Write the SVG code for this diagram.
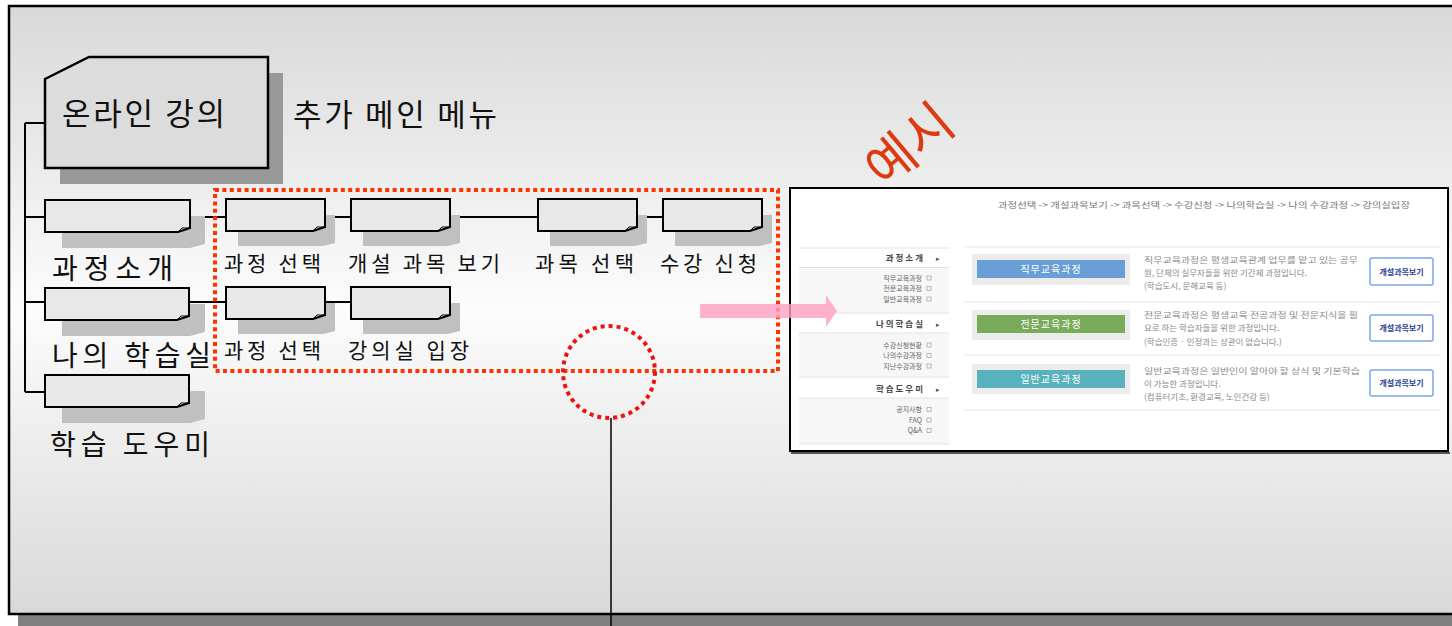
<svg xmlns="http://www.w3.org/2000/svg" width="1452" height="626" viewBox="0 0 1452 626">
<defs>
<linearGradient id="bg" x1="0" y1="0" x2="0" y2="1">
<stop offset="0" stop-color="#d9d9d9"/>
<stop offset="0.5" stop-color="#fcfcfc"/>
<stop offset="1" stop-color="#d9d9d9"/>
</linearGradient>
</defs>
<style>
.k{font-family:"Noto Sans CJK KR","Noto Sans",sans-serif;fill:#111}
.big{font-size:31px}
.lbl{font-size:28px}
.sl{font-size:21px}
.nd{fill:#e8e8e8;stroke:#000;stroke-width:2}
.fold{fill:none;stroke:#000;stroke-width:1}
.sh{fill:#c0c0c0}
.ln{stroke:#000;stroke-width:2;fill:none}
.s{font-family:"Noto Sans CJK KR","Noto Sans",sans-serif}
.mh{font-size:8.5px;font-weight:bold;fill:#444;letter-spacing:2px}
.mi{font-size:7px;fill:#666}
.ds{font-size:8.5px;fill:#8a8a8a}
.sep{stroke:#e4e4dc;stroke-width:1}
.ico{fill:none;stroke:#aaa;stroke-width:0.8}
.btn{fill:#fff;stroke:#7aa8e8;stroke-width:1.5}
.bt{font-size:8px;font-weight:bold;fill:#2a3f8f}
.bar{font-size:10px;fill:#fff;letter-spacing:1px}
</style>
<!-- background frame -->
<rect x="18" y="614" width="1440" height="12" fill="#808080"/>
<rect x="9" y="6" width="1450" height="608" fill="url(#bg)" stroke="#000" stroke-width="2.5"/>

<!-- connectors -->
<g id="connectors">
<path class="ln" d="M25,123 V392 M25,123 H45 M25,217 H45 M25,302 H45 M25,392 H45"/>
<path class="ln" d="M190,217 H663"/>
<path class="ln" d="M189,302 H351"/>
<line x1="611" y1="418" x2="611" y2="626" stroke="#000" stroke-width="1.5"/>
</g>

<!-- main node -->
<g id="node-main">
<rect x="60" y="73" width="223" height="111" fill="#999"/>
<path d="M45,79 L89,57 H268 V168 H45 Z" fill="#dcdcdc" stroke="#000" stroke-width="2.5"/>
<text class="k big" x="62" y="125" textLength="163" lengthAdjust="spacing">온라인 강의</text>
</g>
<text class="k big" x="293" y="126" textLength="204" lengthAdjust="spacing">추가 메인 메뉴</text>

<!-- level 1 nodes -->
<g id="node-course-intro" transform="translate(45,200)">
<path class="sh" d="M17,16 H160 V44 L145,48 H17 Z"/>
<path class="nd" d="M0,0 H145 V28 L139,30 L133,32 H0 Z"/>
<path class="fold" d="M133,32 L137,28 L145,28"/>
<text class="k lbl" x="7" y="79" textLength="121" lengthAdjust="spacing">과정소개</text>
</g>
<g id="node-my-study" transform="translate(45,288)">
<path class="sh" d="M17,16 H160 V44 L145,48 H17 Z"/>
<path class="nd" d="M0,0 H144 V28 L138,30 L132,32 H0 Z"/>
<path class="fold" d="M132,32 L136,28 L144,28"/>
<text class="k lbl" x="7" y="78" textLength="159" lengthAdjust="spacing">나의 학습실</text>
</g>
<g id="node-helper" transform="translate(45,375)">
<path class="sh" d="M17,16 H160 V44 L145,48 H17 Z"/>
<path class="nd" d="M0,0 H144 V28 L138,30 L132,32 H0 Z"/>
<path class="fold" d="M132,32 L136,28 L144,28"/>
<text class="k lbl" x="5" y="80" textLength="160" lengthAdjust="spacing">학습 도우미</text>
</g>

<!-- row 1 -->
<g id="node-r1-1" transform="translate(226,199)">
<path class="sh" d="M12,16 H109 V44 L97,47 H12 Z"/>
<path class="nd" d="M0,0 H99 V28 L93,30 L87,32 H0 Z"/>
<path class="fold" d="M87,32 L91,28 L99,28"/>
<text class="k sl" x="-2" y="72" textLength="97" lengthAdjust="spacing">과정 선택</text>
</g>
<g id="node-r1-2" transform="translate(351,199)">
<path class="sh" d="M12,16 H109 V44 L97,47 H12 Z"/>
<path class="nd" d="M0,0 H99 V28 L93,30 L87,32 H0 Z"/>
<path class="fold" d="M87,32 L91,28 L99,28"/>
<text class="k sl" x="-3" y="72" textLength="152" lengthAdjust="spacing">개설 과목 보기</text>
</g>
<g id="node-r1-3" transform="translate(538,199)">
<path class="sh" d="M12,16 H109 V44 L97,47 H12 Z"/>
<path class="nd" d="M0,0 H99 V28 L93,30 L87,32 H0 Z"/>
<path class="fold" d="M87,32 L91,28 L99,28"/>
<text class="k sl" x="-3" y="72" textLength="99" lengthAdjust="spacing">과목 선택</text>
</g>
<g id="node-r1-4" transform="translate(663,199)">
<path class="sh" d="M12,16 H109 V44 L97,47 H12 Z"/>
<path class="nd" d="M0,0 H99 V28 L93,30 L87,32 H0 Z"/>
<path class="fold" d="M87,32 L91,28 L99,28"/>
<text class="k sl" x="-3" y="72" textLength="97" lengthAdjust="spacing">수강 신청</text>
</g>

<!-- row 2 -->
<g id="node-r2-1" transform="translate(226,287)">
<path class="sh" d="M12,16 H109 V44 L97,47 H12 Z"/>
<path class="nd" d="M0,0 H99 V28 L93,30 L87,32 H0 Z"/>
<path class="fold" d="M87,32 L91,28 L99,28"/>
<text class="k sl" x="-2" y="71" textLength="97" lengthAdjust="spacing">과정 선택</text>
</g>
<g id="node-r2-2" transform="translate(351,287)">
<path class="sh" d="M12,16 H109 V44 L97,47 H12 Z"/>
<path class="nd" d="M0,0 H99 V28 L93,30 L87,32 H0 Z"/>
<path class="fold" d="M87,32 L91,28 L99,28"/>
<text class="k sl" x="-3" y="71" textLength="121" lengthAdjust="spacing">강의실 입장</text>
</g>

<!-- red dotted highlight -->
<g id="highlight">
<rect x="215" y="190" width="563" height="181" fill="none" stroke="#ff3300" stroke-width="4" stroke-dasharray="4 3.4"/>
<circle cx="609" cy="372" r="46" fill="none" stroke="#ee1111" stroke-width="4" stroke-dasharray="4 4"/>
</g>

<!-- example label -->
<text class="s" x="907" y="142" font-size="52" fill="#dd3a10" text-anchor="middle" dominant-baseline="central" transform="rotate(-40 907 142)">예시</text>

<!-- screenshot -->
<g id="screenshot">
<rect x="791" y="452" width="659" height="2" fill="#555"/>
<rect x="790" y="188" width="658" height="263" fill="#fff" stroke="#000" stroke-width="2"/>
<text class="s" x="998" y="208" font-size="8.5" fill="#777" textLength="412" lengthAdjust="spacingAndGlyphs">과정선택 -&gt; 개설과목보기 -&gt; 과목선택 -&gt; 수강신청 -&gt; 나의학습실 -&gt; 나의 수강과정 -&gt; 강의실입장</text>
<!-- left menu -->
<rect x="799" y="268" width="150" height="45" fill="#f7f7f7"/>
<rect x="799" y="333" width="150" height="44" fill="#f7f7f7"/>
<rect x="799" y="398" width="150" height="46" fill="#f7f7f7"/>
<path class="sep" d="M799,248 H949 M799,267.5 H949 M799,313 H949 M799,333 H949 M799,377 H949 M799,398 H949 M799,444 H949"/>
<text class="s mh" x="925" y="261" text-anchor="end">과정소개</text>
<text class="s mh" x="925" y="327" text-anchor="end">나의학습실</text>
<text class="s mh" x="925" y="392" text-anchor="end">학습도우미</text>
<g fill="#555" font-size="7" class="s">
<text x="936" y="261">▸</text><text x="936" y="327">▸</text><text x="936" y="392">▸</text>
</g>
<g class="s mi" text-anchor="end">
<text x="922" y="280.5">직무교육과정</text>
<text x="922" y="291">전문교육과정</text>
<text x="922" y="301.5">일반교육과정</text>
<text x="922" y="347.5">수강신청현황</text>
<text x="922" y="358">나의수강과정</text>
<text x="922" y="368.5">지난수강과정</text>
<text x="922" y="412">공지사항</text>
<text x="922" y="422.5">FAQ</text>
<text x="922" y="433">Q&amp;A</text>
</g>
<g class="ico">
<rect x="927" y="276" width="4" height="4"/><rect x="927" y="286.5" width="4" height="4"/><rect x="927" y="297" width="4" height="4"/>
<rect x="927" y="343" width="4" height="4"/><rect x="927" y="353.5" width="4" height="4"/><rect x="927" y="364" width="4" height="4"/>
<rect x="927" y="407.5" width="4" height="4"/><rect x="927" y="418" width="4" height="4"/><rect x="927" y="428.5" width="4" height="4"/>
</g>
<!-- content -->
<path class="sep" d="M965,247 H1440 M965,302 H1440 M965,355 H1440 M965,410 H1440"/>
<rect x="972" y="254" width="158" height="31" fill="#ececec"/>
<rect x="977" y="260" width="148" height="18" fill="#6a9ed6"/>
<text class="s bar" x="1051" y="273" text-anchor="middle">직무교육과정</text>
<rect x="972" y="310" width="158" height="30" fill="#ececec"/>
<rect x="977" y="315" width="148" height="18" fill="#78ac5a"/>
<text class="s bar" x="1051" y="328" text-anchor="middle">전문교육과정</text>
<rect x="972" y="364" width="158" height="30" fill="#ececec"/>
<rect x="977" y="370" width="148" height="18" fill="#58b2bd"/>
<text class="s bar" x="1051" y="383" text-anchor="middle">일반교육과정</text>
<g class="s ds">
<text x="1144" y="263" textLength="214" lengthAdjust="spacingAndGlyphs">직무교육과정은 평생교육관계 업무를 맡고 있는 공무</text>
<text x="1144" y="276">원, 단체의 실무자들을 위한 기간제 과정입니다.</text>
<text x="1144" y="289">(학습도시, 문해교육 등)</text>
<text x="1144" y="318" textLength="214" lengthAdjust="spacingAndGlyphs">전문교육과정은 평생교육 전공과정 및 전문지식을 필</text>
<text x="1144" y="331">요로 하는 학습자들을 위한 과정입니다.</text>
<text x="1144" y="345">(학습인증 · 인정과는 상관이 없습니다.)</text>
<text x="1144" y="374" textLength="216" lengthAdjust="spacingAndGlyphs">일반교육과정은 일반인이 알아야 할 상식 및 기본학습</text>
<text x="1144" y="387">이 가능한 과정입니다.</text>
<text x="1144" y="400">(컴퓨터기초, 환경교육, 노인건강 등)</text>
</g>
<rect class="btn" x="1370" y="258" width="63" height="27" rx="2"/>
<rect class="btn" x="1370" y="315" width="63" height="26" rx="2"/>
<rect class="btn" x="1370" y="370" width="63" height="26" rx="2"/>
<g class="s bt" text-anchor="middle">
<text x="1401.5" y="274.5">개설과목보기</text>
<text x="1401.5" y="331">개설과목보기</text>
<text x="1401.5" y="386">개설과목보기</text>
</g>
</g>

<!-- pink arrow -->
<path d="M700,304 H826 V295 L837,311 L826,327 V318 H700 Z" fill="#ff9fc0" fill-opacity="0.8"/>
</svg>
